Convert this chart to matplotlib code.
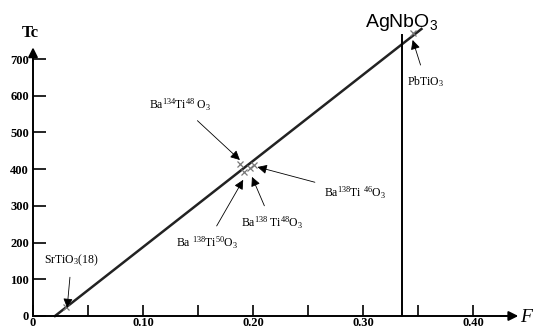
import matplotlib
matplotlib.use('Agg')
import matplotlib.pyplot as plt

plt.rcParams['mathtext.fontset'] = 'custom'
plt.rcParams['mathtext.rm'] = 'Liberation Serif'
plt.rcParams['mathtext.it'] = 'Liberation Serif:italic'
plt.rcParams['mathtext.bf'] = 'Liberation Serif:bold'
plt.rcParams['mathtext.sf'] = 'Liberation Sans'

# fitted line Tc vs F
fit_F = [0.020, 0.353]
fit_Tc = [0, 782]

# measured compounds
point_F = [0.030, 0.188, 0.192, 0.197, 0.201, 0.345]
point_Tc = [25, 415, 392, 402, 412, 771]

# AgNbO3 vertical marker
agnbo3_F = 0.335
agnbo3_Tc = 766

x_ticks = [0, 0.10, 0.20, 0.30, 0.40]
x_ticklabels = ['0', '0.10', '0.20', '0.30', '0.40']
x_minor = [0.05, 0.15, 0.25, 0.35]
y_ticks = [0, 100, 200, 300, 400, 500, 600, 700]

# label, arrow head (F, Tc), text position (F, Tc)
notes = [
    ('SrTiO$_3$(18)', (0.031, 22), (0.035, 153)),
    ('Ba$^{134}$Ti$^{48}$ O$_3$', (0.188, 425), (0.134, 575)),
    ('Ba$^{138}$Ti $^{46}$O$_3$', (0.204, 406), (0.293, 335)),
    ('Ba$^{138}$ Ti$^{48}$O$_3$', (0.199, 379), (0.217, 253)),
    ('Ba $^{138}$Ti$^{50}$O$_3$', (0.191, 371), (0.158, 199)),
    ('PbTiO$_3$', (0.345, 752), (0.357, 638)),
]

fig = plt.figure(figsize=(5.37, 3.27), dpi=100)
ax = fig.add_axes([0, 0, 1, 1])
ax.set_xlim(-0.03, 0.458)
ax.set_ylim(-30, 861)

for s in ['top', 'right']:
    ax.spines[s].set_visible(False)
ax.spines['left'].set_position(('data', 0))
ax.spines['bottom'].set_position(('data', 0))
ax.spines['left'].set_bounds(0, 700)
ax.spines['bottom'].set_bounds(0, 0.43)
ax.spines['left'].set_linewidth(1.4)
ax.spines['bottom'].set_linewidth(1.4)

ax.annotate('', xy=(0, 732), xytext=(0, 695),
            arrowprops=dict(arrowstyle='-|>', color='k', lw=1.4,
                            mutation_scale=14, shrinkA=0, shrinkB=0))
ax.annotate('', xy=(0.441, 0), xytext=(0.425, 0),
            arrowprops=dict(arrowstyle='-|>', color='k', lw=1.4,
                            mutation_scale=14, shrinkA=0, shrinkB=0))

ax.set_xticks(x_ticks)
ax.set_xticklabels(x_ticklabels, fontfamily='Liberation Serif',
                   fontweight='bold', fontsize=9)
ax.set_xticks(x_minor, minor=True)
ax.set_yticks(y_ticks)
ax.set_yticklabels([str(v) for v in y_ticks], fontfamily='Liberation Serif',
                   fontweight='bold', fontsize=9)
ax.tick_params(which='both', direction='in', length=8, width=1.2, pad=1)
ax.tick_params(axis='y', length=9, pad=3)

ax.plot(fit_F, fit_Tc, color='#222222', lw=1.8)
ax.plot(point_F, point_Tc, 'x', color='#777777', ms=4.5, mew=0.9)
ax.plot([agnbo3_F, agnbo3_F], [0, agnbo3_Tc], color='k', lw=1.4)

ax.text(agnbo3_F, 800, r'$\mathsf{AgNbO_3}$', fontsize=14,
        ha='center', va='center')
ax.text(-0.002, 771, 'Tc', fontfamily='Liberation Serif', fontweight='bold',
        fontsize=12, ha='center', va='center')
ax.text(0.443, -4, 'F', fontfamily='Liberation Serif', fontstyle='italic',
        fontsize=14, ha='left', va='center')

for label, head, pos in notes:
    ax.annotate(label, xy=head, xytext=pos, fontsize=8.5,
                fontfamily='Liberation Serif', ha='center', va='center',
                arrowprops=dict(arrowstyle='-|>', color='k', lw=0.6,
                                mutation_scale=14, shrinkA=5, shrinkB=0))

fig.savefig('out.png', dpi=100)
